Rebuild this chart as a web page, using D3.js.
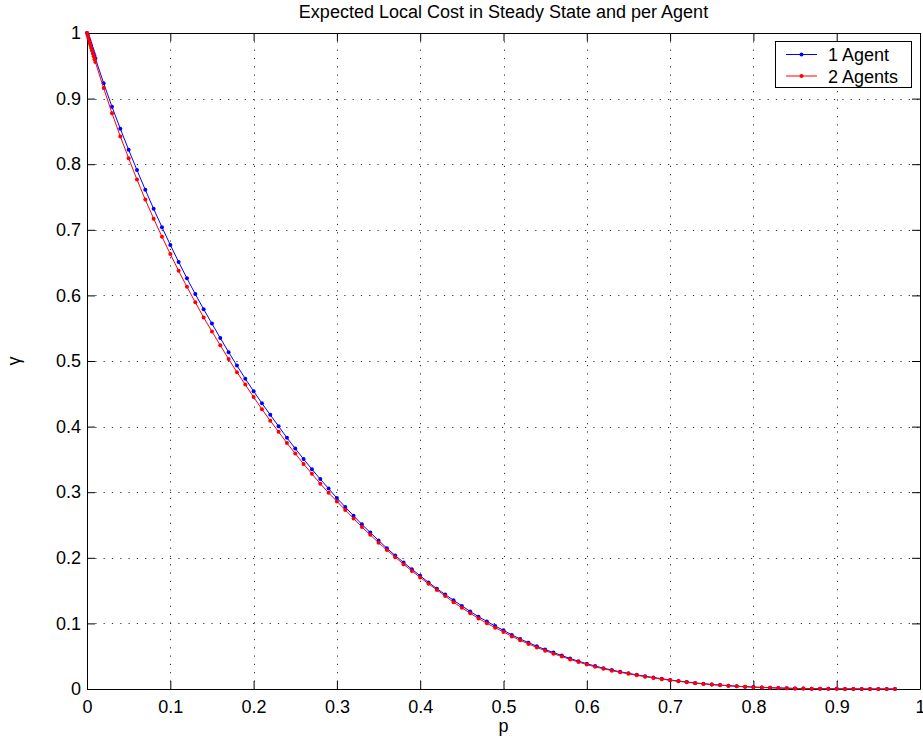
<!DOCTYPE html>
<html>
<head>
<meta charset="utf-8">
<script src="https://cdn.jsdelivr.net/npm/d3@7"></script>
<style>
  body { margin: 0; background: #fff; }
  text { font-family: "Liberation Sans", Arial, Helvetica, sans-serif; fill: #000; }
</style>
</head>
<body>
<div class="container"></div>
<script>
// Chart values
const pValues = [
  0, 0.001, 0.002, 0.003, 0.004, 0.005, 0.006, 0.007, 0.008, 0.009,
  0.01, 0.02, 0.03, 0.04, 0.05, 0.06, 0.07, 0.08, 0.09, 0.10,
  0.11, 0.12, 0.13, 0.14, 0.15, 0.16, 0.17, 0.18, 0.19, 0.20,
  0.21, 0.22, 0.23, 0.24, 0.25, 0.26, 0.27, 0.28, 0.29, 0.30,
  0.31, 0.32, 0.33, 0.34, 0.35, 0.36, 0.37, 0.38, 0.39, 0.40,
  0.41, 0.42, 0.43, 0.44, 0.45, 0.46, 0.47, 0.48, 0.49, 0.50,
  0.51, 0.52, 0.53, 0.54, 0.55, 0.56, 0.57, 0.58, 0.59, 0.60,
  0.61, 0.62, 0.63, 0.64, 0.65, 0.66, 0.67, 0.68, 0.69, 0.70,
  0.71, 0.72, 0.73, 0.74, 0.75, 0.76, 0.77, 0.78, 0.79, 0.80,
  0.81, 0.82, 0.83, 0.84, 0.85, 0.86, 0.87, 0.88, 0.89, 0.90,
  0.91, 0.92, 0.93, 0.94, 0.95, 0.96, 0.97
];

const oneAgent = [
  1.0, 0.9960, 0.9921, 0.9882, 0.9843, 0.9804, 0.9765, 0.9727, 0.9688, 0.9650,
  0.9612, 0.9235, 0.8875, 0.8540, 0.8220, 0.7910, 0.7610, 0.7320, 0.7040, 0.6770,
  0.6510, 0.6260, 0.6020, 0.5790, 0.5570, 0.5350, 0.5135, 0.4930, 0.4730, 0.4540,
  0.4355, 0.4180, 0.4005, 0.3830, 0.3665, 0.3505, 0.3350, 0.3200, 0.3055, 0.2910,
  0.2775, 0.2640, 0.2510, 0.2385, 0.2265, 0.2145, 0.2035, 0.1930, 0.1825, 0.1725,
  0.1625, 0.1530, 0.1440, 0.1353, 0.1267, 0.1182, 0.1102, 0.1030, 0.0960, 0.0894,
  0.0825, 0.0763, 0.0706, 0.0652, 0.0601, 0.0555, 0.0510, 0.0465, 0.0424, 0.0385,
  0.0350, 0.0318, 0.0289, 0.0263, 0.0239, 0.0216, 0.0195, 0.0175, 0.0156, 0.0138,
  0.0122, 0.0107, 0.0093, 0.0081, 0.0070, 0.0060, 0.0051, 0.0043, 0.0036, 0.0030,
  0.0024, 0.0020, 0.0016, 0.0012, 0.0009, 0.0007, 0.0005, 0.0004, 0.0003, 0.0002,
  0.0001, 0.0001, 0.0001, 0.0000, 0.0000, 0.0000, 0.0000
];

const twoAgents = [
  1.0, 0.9955, 0.9910, 0.9866, 0.9821, 0.9777, 0.9733, 0.9689, 0.9645, 0.9601,
  0.9557, 0.9160, 0.8777, 0.8424, 0.8090, 0.7765, 0.7460, 0.7170, 0.6895, 0.6630,
  0.6375, 0.6130, 0.5895, 0.5665, 0.5450, 0.5240, 0.5030, 0.4830, 0.4640, 0.4450,
  0.4265, 0.4090, 0.3920, 0.3750, 0.3590, 0.3430, 0.3280, 0.3130, 0.2990, 0.2860,
  0.2730, 0.2600, 0.2470, 0.2350, 0.2230, 0.2119, 0.2010, 0.1903, 0.1800, 0.1700,
  0.1603, 0.1510, 0.1418, 0.1322, 0.1238, 0.1155, 0.1075, 0.1002, 0.0935, 0.0870,
  0.0802, 0.0742, 0.0687, 0.0634, 0.0584, 0.0539, 0.0495, 0.0451, 0.0411, 0.0372,
  0.0338, 0.0308, 0.0280, 0.0254, 0.0231, 0.0209, 0.0188, 0.0168, 0.0150, 0.0133,
  0.0117, 0.0103, 0.0089, 0.0078, 0.0067, 0.0057, 0.0049, 0.0041, 0.0034, 0.0028,
  0.0023, 0.0019, 0.0015, 0.0011, 0.0009, 0.0006, 0.0005, 0.0003, 0.0002, 0.0002,
  0.0001, 0.0001, 0.0000, 0.0000, 0.0000, 0.0000, 0.0000
];

const xTicks = [0, 0.1, 0.2, 0.3, 0.4, 0.5, 0.6, 0.7, 0.8, 0.9, 1];
const yTicks = [0, 0.1, 0.2, 0.3, 0.4, 0.5, 0.6, 0.7, 0.8, 0.9, 1];

const seriesNames = ["1 Agent", "2 Agents"];
const seriesColors = ["#0000ff", "#ff0000"];

const width = 923,
    height = 740,
    margin = { top: 33, right: 3, bottom: 51, left: 87 };

const fontSize = 18;

const svg = d3.select(".container")
    .append("svg")
    .attr("width", width)
    .attr("height", height)
    .style("display", "block");

const x = d3.scaleLinear().domain([0, 1]).range([margin.left, width - margin.right]);
const y = d3.scaleLinear().domain([0, 1]).range([height - margin.bottom, margin.top]);

// dotted grid
const grid = svg.append("g").attr("class", "grid")
    .attr("stroke", "#333")
    .attr("stroke-width", 1)
    .attr("stroke-dasharray", "1.2,7.1");

grid.selectAll("line.vx")
    .data(xTicks.slice(1, -1))
    .enter()
    .append("line")
    .attr("x1", d => Math.round(x(d)) + 0.5)
    .attr("x2", d => Math.round(x(d)) + 0.5)
    .attr("y1", y(1))
    .attr("y2", y(0));

grid.selectAll("line.hy")
    .data(yTicks.slice(1, -1))
    .enter()
    .append("line")
    .attr("y1", d => Math.round(y(d)) + 0.5)
    .attr("y2", d => Math.round(y(d)) + 0.5)
    .attr("x1", x(0))
    .attr("x2", x(1));

// axes, ticks inside on all four sides
function styleAxis(g) {
    g.selectAll("path, line").attr("stroke", "#000").attr("stroke-width", 1);
    g.selectAll("text")
        .attr("font-size", fontSize)
        .attr("font-family", '"Liberation Sans", Arial, sans-serif')
        .attr("fill", "#000");
}

svg.append("g")
    .attr("transform", `translate(0,${y(0)})`)
    .call(d3.axisBottom(x).tickValues(xTicks).tickSizeInner(-8).tickSizeOuter(0)
        .tickPadding(11).tickFormat(d3.format("")))
    .call(styleAxis);

svg.append("g")
    .attr("transform", `translate(${x(0)},0)`)
    .call(d3.axisLeft(y).tickValues(yTicks).tickSizeInner(-8).tickSizeOuter(0)
        .tickPadding(6).tickFormat(d3.format("")))
    .call(styleAxis);

svg.append("g")
    .attr("transform", `translate(0,${y(1)})`)
    .call(d3.axisTop(x).tickValues(xTicks).tickSizeInner(-8).tickSizeOuter(0).tickFormat(""))
    .call(styleAxis);

svg.append("g")
    .attr("transform", `translate(${x(1)},0)`)
    .call(d3.axisRight(y).tickValues(yTicks).tickSizeInner(-8).tickSizeOuter(0).tickFormat(""))
    .call(styleAxis);

// data lines with dot markers
const line = d3.line()
    .x(d => x(d[0]))
    .y(d => y(d[1]));

[oneAgent, twoAgents].forEach((vals, i) => {
    const pts = pValues.map((p, j) => [p, vals[j]]);
    const g = svg.append("g").attr("class", "series");
    g.append("path")
        .datum(pts)
        .attr("fill", "none")
        .attr("stroke", seriesColors[i])
        .attr("stroke-width", 1)
        .attr("d", line);
    g.selectAll("circle")
        .data(pts)
        .enter()
        .append("circle")
        .attr("cx", d => x(d[0]))
        .attr("cy", d => y(d[1]))
        .attr("r", 2)
        .attr("fill", seriesColors[i]);
});

// title and axis labels
svg.append("text")
    .attr("x", (x(0) + x(1)) / 2)
    .attr("y", 18)
    .attr("text-anchor", "middle")
    .attr("font-size", fontSize)
    .text("Expected Local Cost in Steady State and per Agent");

svg.append("text")
    .attr("x", (x(0) + x(1)) / 2)
    .attr("y", 732)
    .attr("text-anchor", "middle")
    .attr("font-size", fontSize)
    .text("p");

svg.append("text")
    .attr("transform", `translate(20,${(y(0) + y(1)) / 2}) rotate(-90)`)
    .attr("text-anchor", "middle")
    .attr("font-size", fontSize)
    .text("γ");

// legend
const legend = svg.append("g").attr("class", "legend");

legend.append("rect")
    .attr("x", 775.5)
    .attr("y", 41.5)
    .attr("width", 136)
    .attr("height", 46)
    .attr("fill", "#fff")
    .attr("stroke", "#000")
    .attr("stroke-width", 1);

seriesNames.forEach((name, i) => {
    const ly = 54.5 + i * 21.5;
    legend.append("line")
        .attr("x1", 786).attr("x2", 817)
        .attr("y1", ly).attr("y2", ly)
        .attr("stroke", seriesColors[i])
        .attr("stroke-width", 1);
    legend.append("circle")
        .attr("cx", 801.5).attr("cy", ly)
        .attr("r", 2)
        .attr("fill", seriesColors[i]);
    legend.append("text")
        .attr("x", 828)
        .attr("y", ly + 6.5)
        .attr("font-size", fontSize)
        .text(name);
});
</script>
</body>
</html>
